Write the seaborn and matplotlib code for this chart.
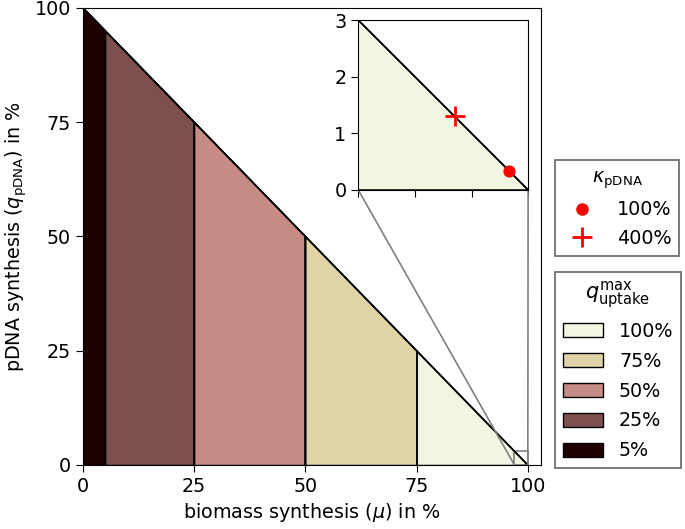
import numpy as np
import pandas as pd
import seaborn as sns
import matplotlib.pyplot as plt
from matplotlib.patches import Patch
from matplotlib.lines import Line2D
from mpl_toolkits.axes_grid1.inset_locator import mark_inset

# uptake levels (max biomass share in %) and their colours
uptake_levels = [100, 75, 50, 25, 5]
uptake_labels = ["100%", "75%", "50%", "25%", "5%"]
uptake_colors = ["#f4f4e2", "#dfd3a7", "#c58b84", "#7d5050", "#200000"]

# kappa points (biomass, pDNA) in %
kappa_labels = ["100%", "400%"]
kappa_mu = [99.67, 98.7]
kappa_q = [0.33, 1.3]
kappa_markers = ["o", "+"]

# front line of the feasible region
front_mu = [0, 100]
front_q = [100, 0]

sns.set_style("ticks", {"axes.edgecolor": "k", "xtick.color": "k", "ytick.color": "k",
                        "text.color": "k", "axes.labelcolor": "k"})
plt.rcParams["font.size"] = 13.8
plt.rcParams["xtick.major.size"] = 5
plt.rcParams["ytick.major.size"] = 5

fig = plt.figure(figsize=(6.85, 5.29), dpi=100)
ax = fig.add_axes([0.121, 0.121, 0.669, 0.864])
axins = fig.add_axes([0.523, 0.641, 0.248, 0.321])


def draw_regions(a):
    for level, color in zip(uptake_levels, uptake_colors):
        x = np.array([0, level])
        a.fill_between(x, 0, 100 - x, facecolor=color, edgecolor="k", lw=1)
        a.plot([level, level], [0, 100 - level], color="k", lw=1.2)
    sns.lineplot(x=front_mu, y=front_q, color="k", lw=1.3, ax=a)


draw_regions(ax)
ax.set_xlim(0, 103)
ax.set_ylim(0, 100)
ax.set_xticks([0, 25, 50, 75, 100])
ax.set_yticks([0, 25, 50, 75, 100])
ax.set_xlabel(r"biomass synthesis ($\mu$) in %")
ax.set_ylabel(r"pDNA synthesis ($q_\mathrm{pDNA}$) in %")

draw_regions(axins)
for mu, q, m in zip(kappa_mu, kappa_q, kappa_markers):
    if m == "o":
        axins.scatter(mu, q, color="red", marker="o", s=60, zorder=5)
    else:
        axins.scatter(mu, q, color="red", marker="+", s=220, linewidths=2, zorder=5)
axins.set_xlim(97, 100)
axins.set_ylim(0, 3)
axins.set_xticks([97, 98, 99, 100])
axins.set_xticklabels([])
axins.set_yticks([0, 1, 2, 3])
mark_inset(ax, axins, loc1=3, loc2=4, fc="none", ec="0.5", lw=1.2)

kappa_handles = [
    Line2D([], [], color="red", marker="o", ls="", markersize=8),
    Line2D([], [], color="red", marker="+", ls="", markersize=15, markeredgewidth=2),
]
leg_kw = dict(loc="upper left", borderaxespad=0, fancybox=False, edgecolor="0.3",
              fontsize=13.8, handletextpad=0.85)
leg1 = fig.legend(kappa_handles, kappa_labels, title=r"$\kappa_\mathrm{pDNA}$",
                  bbox_to_anchor=(0.81, 0.698), title_fontsize=13.8, **leg_kw)
leg1.get_frame().set_linewidth(1.3)
uptake_handles = [Patch(facecolor=c, edgecolor="k") for c in uptake_colors]
leg2 = fig.legend(uptake_handles, uptake_labels, title=r"$q^\mathrm{max}_\mathrm{uptake}$",
                  bbox_to_anchor=(0.81, 0.486), handlelength=2.1, labelspacing=0.57,
                  handleheight=0.75, title_fontsize=15, **leg_kw)
leg2.get_frame().set_linewidth(1.3)

fig.savefig("out.png", dpi=100)
